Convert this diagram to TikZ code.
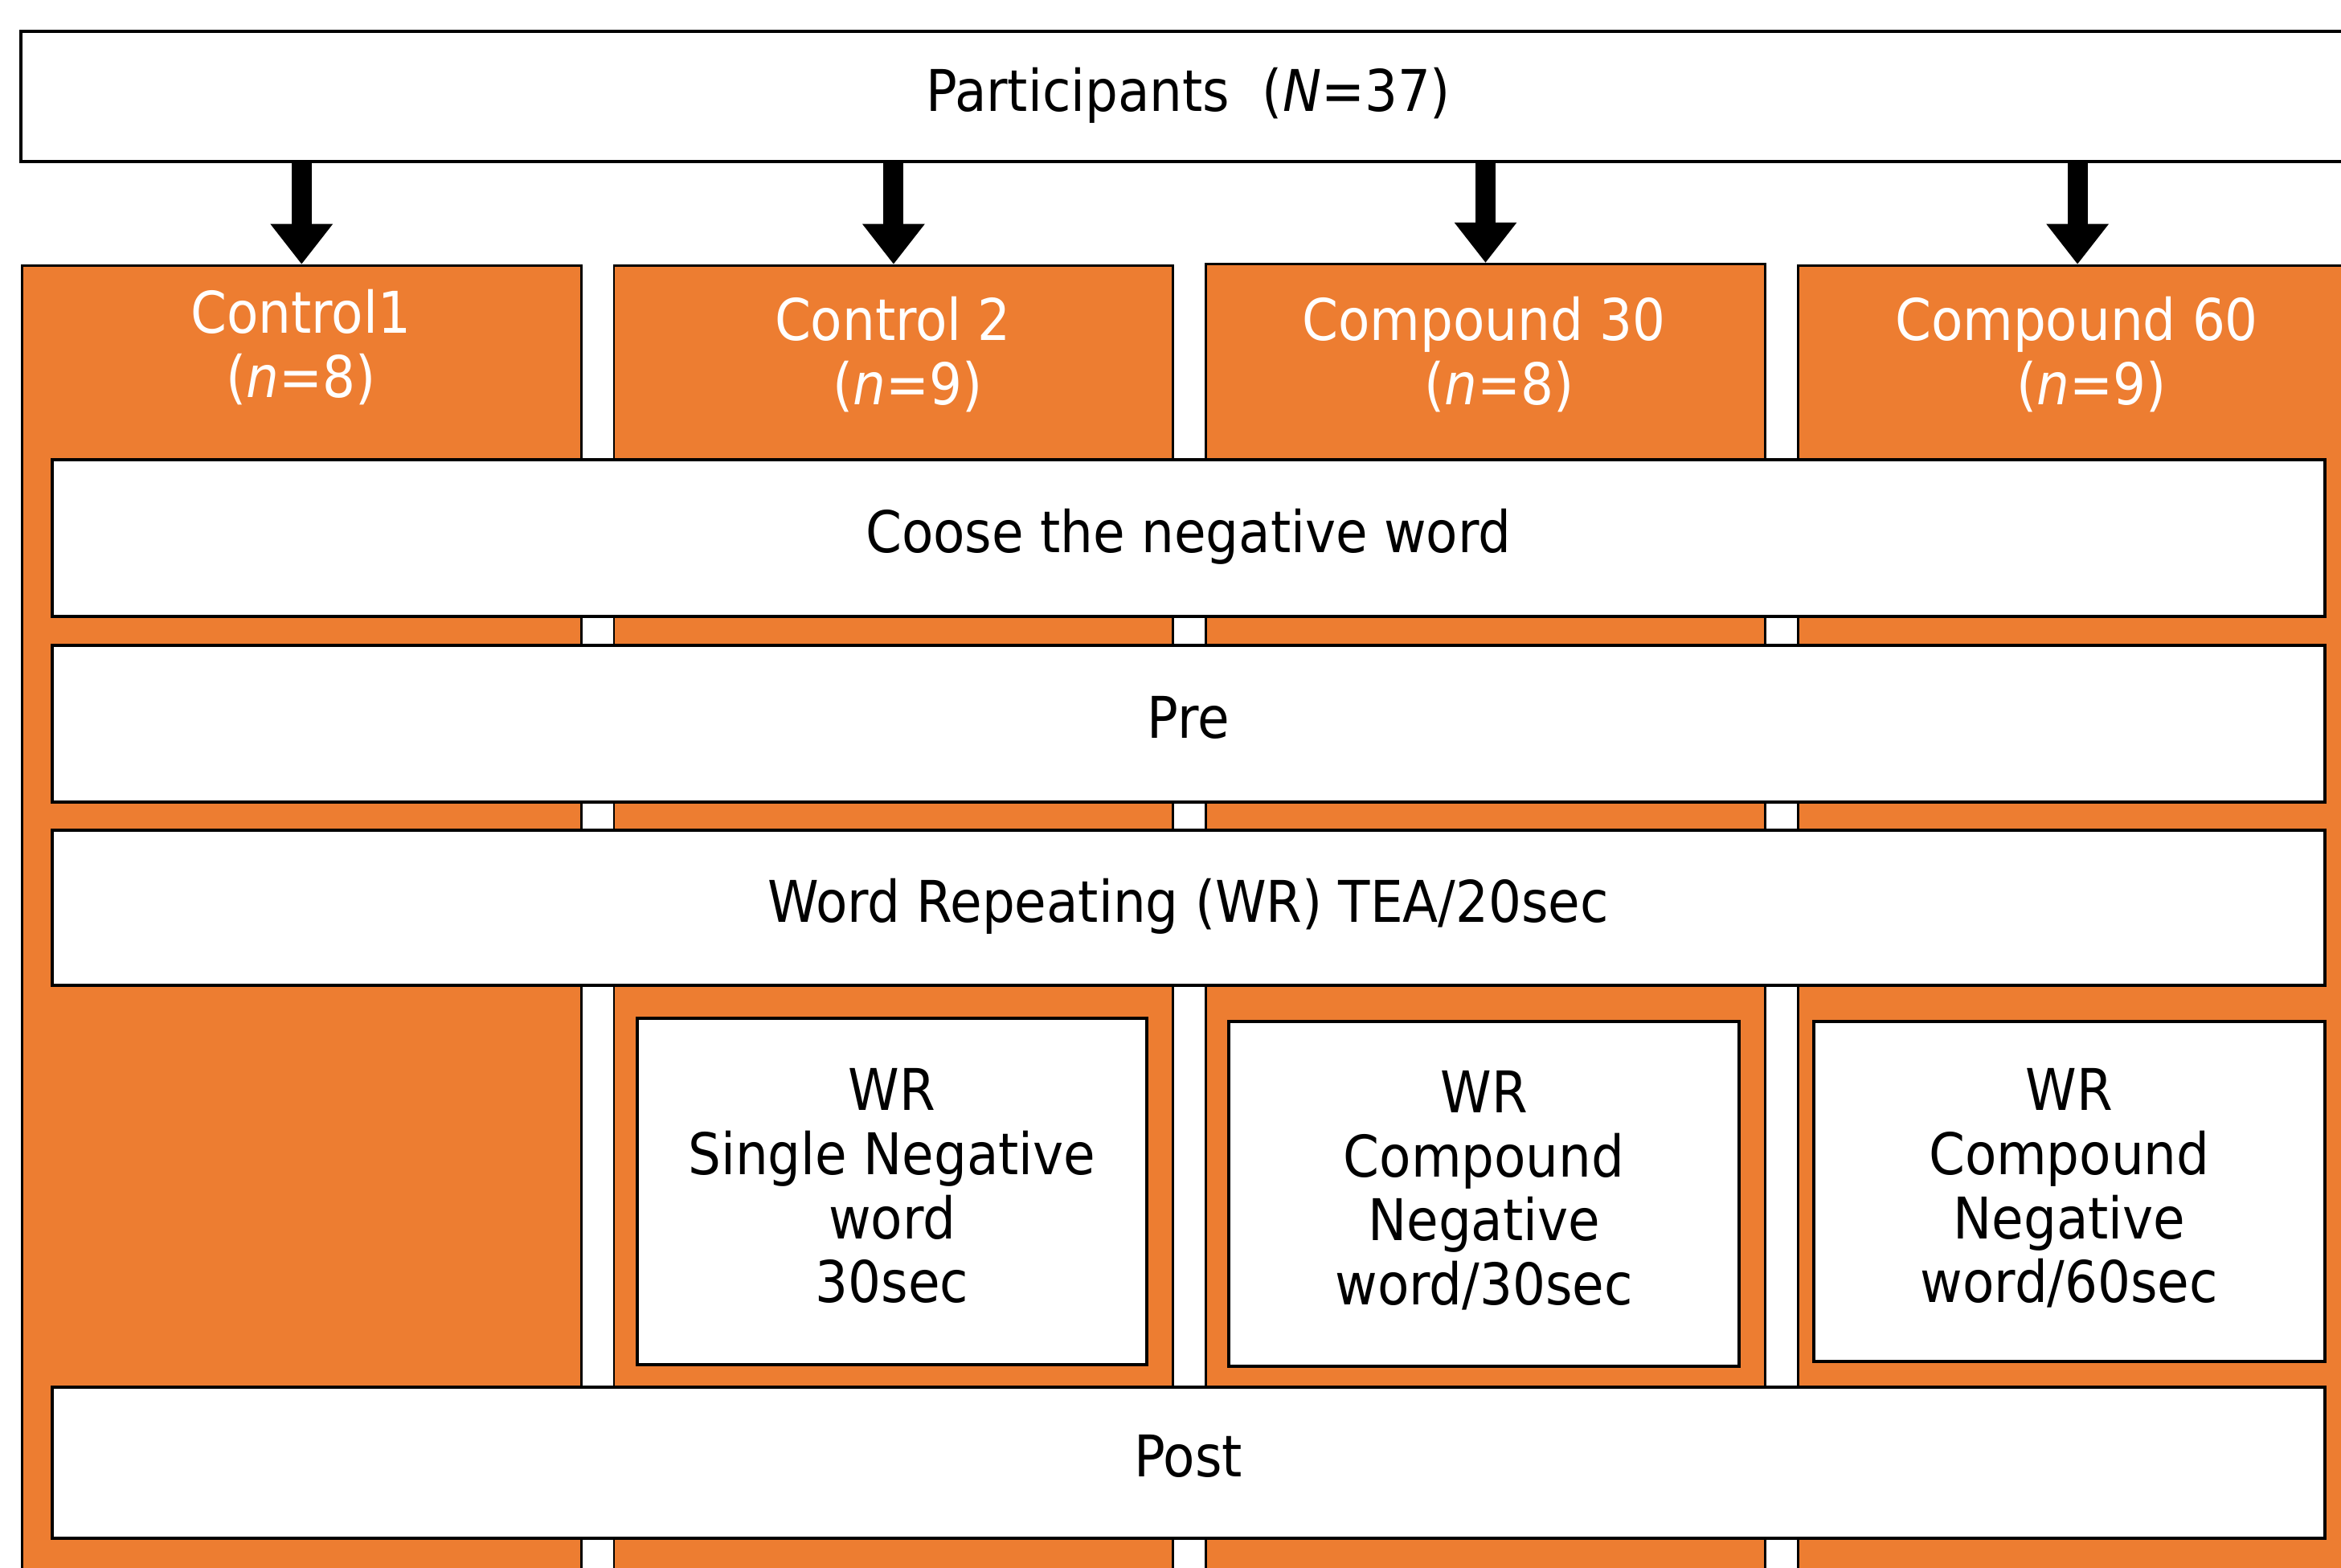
\documentclass[tikz,border=0pt]{standalone}
\usepackage{fontspec}
\setmainfont{DejaVu Sans Condensed}
\usetikzlibrary{arrows.meta,positioning}
\definecolor{groupfill}{HTML}{ED7D31}

\begin{document}
\begin{tikzpicture}[
    x=1pt, y=-1pt,
    node font=\fontsize{38.5}{43}\selectfont,
    group col/.style={draw, line width=1.5pt, fill=groupfill, inner sep=0pt,
        minimum width=374.5pt, minimum height=900pt, anchor=north west},
    group head/.style={text=white, align=center},
    stage box/.style={draw, line width=2.2pt, fill=white, inner sep=0pt,
        minimum width=1522pt, text height=0.76em, text depth=0.25em},
    wr box/.style={draw, line width=2.2pt, fill=white, inner sep=0pt,
        minimum width=341pt, minimum height=230pt, align=center},
    split arrow/.style={line width=13.5pt, -{Triangle[length=27pt, width=40pt]}},
]
\useasboundingbox (0,0) rectangle (1568,1050);
\clip (0,0) rectangle (1568,1050);

% Group columns
\node[group col] (col1) at (14,177) {};
\node[group col] (col2) at (410.5,177) {};
\node[group col] (col3) at (807,176) {};
\node[group col] (col4) at (1203.5,177) {};

% Group labels
\node[group head] (head1) at (201.5,232.5) {Control1\\(\textit{n}=8)};
\node[group head] (head2) at (598,237.5) {Control 2\\\hspace*{20pt}(\textit{n}=9)};
\node[group head] (head3) at (994,237.5) {Compound 30\\\hspace*{20pt}(\textit{n}=8)};
\node[group head] (head4) at (1391,237.5) {Compound 60\\\hspace*{20pt}(\textit{n}=9)};

% Common stages
\node[stage box, minimum height=105pt] (choose) at (796,360.5) {Coose the negative word};
\node[stage box, minimum height=105pt] (pre) at (796,484.5) {Pre};
\node[stage box, minimum height=104pt] (wrtea) at (796,608) {Word Repeating (WR) TEA/20sec};

% Group specific word repeating
\node[wr box, minimum height=232pt] (wr2) at (597.5,798) {WR\\Single Negative\\word\\30sec\vphantom{g}};
\node[wr box, minimum width=342pt, minimum height=231pt] (wr3) at (994,799.5) {WR\\Compound\\Negative\\word/30sec\vphantom{g}};
\node[wr box, minimum width=342pt, minimum height=228pt] (wr4) at (1386,798) {WR\\Compound\\Negative\\word/60sec\vphantom{g}};

\node[stage box, minimum height=101pt] (post) at (796,979.5) {Post};

% Participants
\node[stage box, minimum width=1564pt, minimum height=87pt] (part) at (796,64.5)
    {Participants\ \ (\textit{N}=37)};

% Allocation arrows
\draw[split arrow] (part.south -| col1.north) -- (col1.north);
\draw[split arrow] (part.south -| col2.north) -- (col2.north);
\draw[split arrow] (part.south -| col3.north) -- (col3.north);
\draw[split arrow] (part.south -| col4.north) -- (col4.north);

\end{tikzpicture}
\end{document}
